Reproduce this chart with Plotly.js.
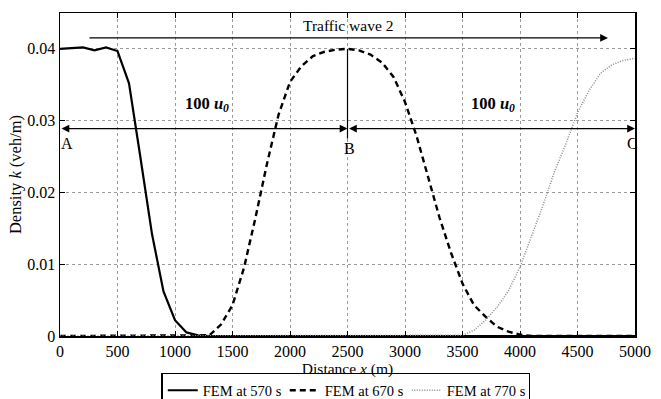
<!DOCTYPE html>
<html>
<head>
<meta charset="utf-8">
<script src="https://cdn.plot.ly/plotly-3.0.1.min.js"></script>
<style>html,body{margin:0;padding:0;background:#fff;}#chart{width:661px;height:399px;}</style>
</head>
<body>
<div id="chart"></div>
<script>
var distance = [0,100,200,300,400,500,600,700,800,900,1000,1100,1200,1300,1400,1500,1600,1700,1800,1900,2000,2100,2200,2300,2400,2500,2600,2700,2800,2900,3000,3100,3200,3300,3400,3500,3600,3700,3800,3900,4000,4100,4200,4300,4400,4500,4600,4700,4800,4900,5000];
var fem570 = [0.0400,0.0401,0.0402,0.0398,0.0402,0.0397,0.0352,0.0248,0.0142,0.0062,0.0022,0.0005,0.0001,0,0,0,0,0,0,0,0,0,0,0,0,0,0,0,0,0,0,0,0,0,0,0,0,0,0,0,0,0,0,0,0,0,0,0,0,0,0];
var fem670 = [0,0,0,0,0,0,0,0,0,0,0,0,0,0.0001,0.0016,0.0043,0.0095,0.0165,0.0240,0.0308,0.0354,0.0376,0.0390,0.0396,0.0399,0.0400,0.0398,0.0392,0.0381,0.0361,0.0326,0.0279,0.0222,0.0165,0.0116,0.0073,0.0043,0.0027,0.0013,0.0006,0.0002,0,0,0,0,0,0,0,0,0,0];
var fem770 = [0,0,0,0,0,0,0,0,0,0,0,0,0,0,0,0,0,0,0,0,0,0,0,0,0,0,0,0,0,0,0,0,0,0,0,0.0001,0.0008,0.0022,0.0040,0.0063,0.0096,0.0139,0.0182,0.0229,0.0268,0.0311,0.0342,0.0366,0.0378,0.0384,0.0387];
var seriesNames = ['FEM at 570 s','FEM at 670 s','FEM at 770 s'];
var xTicks = [0,500,1000,1500,2000,2500,3000,3500,4000,4500,5000];
var yTicks = [0,0.01,0.02,0.03,0.04];
var yTickText = ['0','0.01','0.02','0.03','0.04'];

var FONT = 'Liberation Serif';

var traces = [
  {x: distance, y: fem570, name: seriesNames[0], mode: 'lines', line: {color: '#000', width: 2.2}},
  {x: distance, y: fem670, name: seriesNames[1], mode: 'lines', line: {color: '#000', width: 2.4, dash: '6px,4px'}},
  {x: distance, y: fem770, name: seriesNames[2], mode: 'lines', line: {color: '#8a8a8a', width: 1.5, dash: '1px,1.5px'}}
];

var axisCommon = {
  showline: true, linecolor: '#000', linewidth: 1.5, mirror: 'allticks',
  ticks: 'inside', ticklen: 5, tickcolor: '#000', tickwidth: 1,
  showgrid: true, gridcolor: '#9a9a9a', gridwidth: 1, griddash: 'dot',
  zeroline: false, tickfont: {family: FONT, size: 16, color: '#000'}
};

var layout = {
  width: 661, height: 399,
  margin: {l: 60, r: 26, t: 13, b: 63, autoexpand: false},
  paper_bgcolor: '#fff', plot_bgcolor: '#fff',
  font: {family: FONT, size: 15, color: '#000'},
  showlegend: true,
  legend: {orientation: 'h', x: 0.497, xanchor: 'center', y: -0.114, yanchor: 'top',
    bordercolor: '#000', borderwidth: 1.5, bgcolor: '#fff',
    font: {family: FONT, size: 14.5, color: '#000'}, itemwidth: 30, tracegroupgap: 0,
    entrywidth: 77, entrywidthmode: 'pixels'},
  xaxis: Object.assign({}, axisCommon, {range: [0, 5000], tickvals: xTicks,
    title: {text: 'Distance <i>x</i> (m)', font: {family: FONT, size: 15.5}, standoff: 2}}),
  yaxis: Object.assign({}, axisCommon, {range: [0, 0.045], tickvals: yTicks, ticktext: yTickText,
    title: {text: 'Density <i>k</i> (veh/m)', font: {family: FONT, size: 16.5}, standoff: 1}}),
  shapes: [
    {type: 'line', xref: 'x', yref: 'y', x0: 2500, x1: 2500, y0: 0.0275, y1: 0.040, line: {color: '#000', width: 1.2}}
  ],
  annotations: [
    {xref: 'x', yref: 'y', axref: 'x', ayref: 'y', x: 4765, y: 0.04153, ax: 243, ay: 0.04153, text: '', showarrow: true, arrowhead: 2, arrowsize: 1.3, arrowwidth: 1.2, arrowcolor: '#000', standoff: 0},
    {xref: 'x', yref: 'y', x: 2500, y: 0.0432, text: 'Traffic wave 2', showarrow: false, font: {family: FONT, size: 15.5}},
    {xref: 'x', yref: 'y', axref: 'x', ayref: 'y', x: 2500, y: 0.0289, ax: 0, ay: 0.0289, text: '', showarrow: true, arrowhead: 2, startarrowhead: 2, arrowside: 'end+start', arrowsize: 1.3, startarrowsize: 1.3, arrowwidth: 1.2, arrowcolor: '#000', standoff: 0, startstandoff: 0},
    {xref: 'x', yref: 'y', axref: 'x', ayref: 'y', x: 5000, y: 0.0289, ax: 2500, ay: 0.0289, text: '', showarrow: true, arrowhead: 2, startarrowhead: 2, arrowside: 'end+start', arrowsize: 1.3, startarrowsize: 1.3, arrowwidth: 1.2, arrowcolor: '#000', standoff: 0, startstandoff: 0},
    {xref: 'x', yref: 'y', x: 58, y: 0.0268, text: 'A', showarrow: false, font: {family: FONT, size: 16}},
    {xref: 'x', yref: 'y', x: 2516, y: 0.0261, text: 'B', showarrow: false, font: {family: FONT, size: 16}},
    {xref: 'x', yref: 'y', x: 4975, y: 0.0268, text: 'C', showarrow: false, font: {family: FONT, size: 16}},
    {xref: 'x', yref: 'y', x: 1280, y: 0.0323, text: '<b>100 <i>u</i><sub><i>0</i></sub></b>', showarrow: false, font: {family: FONT, size: 16.5}},
    {xref: 'x', yref: 'y', x: 3765, y: 0.0323, text: '<b>100 <i>u</i><sub><i>0</i></sub></b>', showarrow: false, font: {family: FONT, size: 16.5}}
  ]
};

Plotly.newPlot('chart', traces, layout, {displayModeBar: false, staticPlot: true});
</script>
</body>
</html>
